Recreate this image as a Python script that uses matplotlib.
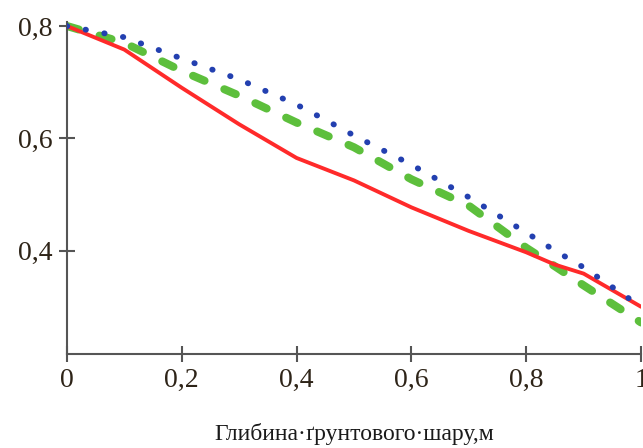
import matplotlib.pyplot as plt
import numpy as np

# depth of soil layer, m
depth = [0.0, 0.1, 0.2, 0.3, 0.4, 0.45, 0.5, 0.6, 0.7, 0.8, 0.85, 0.9, 1.0]
red = [0.800, 0.758, 0.690, 0.625, 0.565, 0.545, 0.525, 0.477, 0.435, 0.397, 0.375, 0.359, 0.300]
blue = [0.800, 0.780, 0.742, 0.705, 0.660, 0.633, 0.605, 0.553, 0.495, 0.432, 0.400, 0.370, 0.300]
green = [0.800, 0.770, 0.720, 0.676, 0.628, 0.606, 0.584, 0.527, 0.480, 0.405, 0.372, 0.338, 0.272]

xticks = [0, 0.2, 0.4, 0.6, 0.8, 1.0]
xticklabels = ["0", "0,2", "0,4", "0,6", "0,8", "1"]
yticks = [0.4, 0.6, 0.8]
yticklabels = ["0,4", "0,6", "0,8"]

plt.rcParams['font.family'] = ['Liberation Serif', 'DejaVu Serif']
plt.rcParams['lines.scale_dashes'] = False

fig = plt.figure(figsize=(6.43, 4.48), dpi=100)
ax = fig.add_axes([0.104, 0.21, 0.893, 0.742])

ax.plot(depth, red, color='#ff2a2a', lw=2.8, solid_capstyle='round', zorder=3)
ax.plot(depth, green, color='#5dbf3c', lw=5.8, dashes=(9, 15.5), dash_capstyle='round', zorder=2)
ax.plot(depth, blue, color='#2340b0', lw=4.2, dashes=(0.3, 13.4), dash_capstyle='round', zorder=4)

ax.set_xlim(0, 1.0)
ax.set_ylim(0.216, 0.808)
ax.set_xticks(xticks)
ax.set_xticklabels(xticklabels)
ax.set_yticks(yticks)
ax.set_yticklabels(yticklabels)

for s in ['top', 'right']:
    ax.spines[s].set_visible(False)
for s in ['left', 'bottom']:
    ax.spines[s].set_color('#555555')
    ax.spines[s].set_linewidth(1.5)
    ax.spines[s].set_clip_on(False)

ax.tick_params(direction='inout', length=12, width=1.5, color='#555555',
               labelsize=20, labelcolor='#2e2418', pad=4)
ax.set_xlabel("Глибина·ґрунтового·шару,м", fontsize=17, color='#1a1a1a', labelpad=22)

fig.savefig("out.png", dpi=100)
